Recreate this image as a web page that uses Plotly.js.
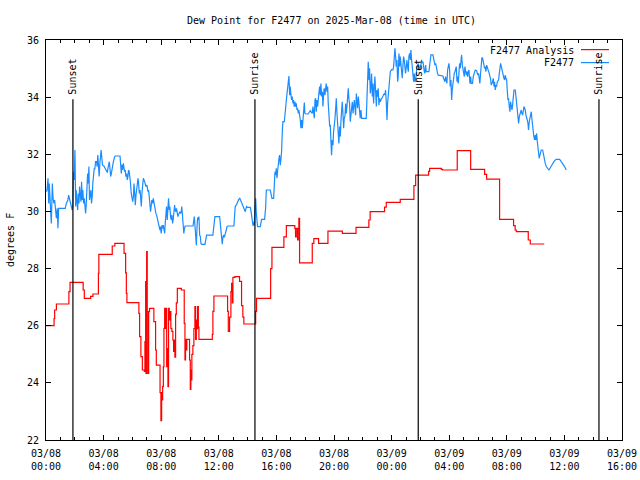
<!DOCTYPE html>
<html><head><meta charset="utf-8">
<script src="https://cdn.plot.ly/plotly-3.0.1.min.js"></script>
<style>html,body{margin:0;padding:0;background:#fff}#chart{width:640px;height:480px}</style>
</head><body><div id="chart"></div>
<script>
// x values are hours since 2025-03-08 00:00 UTC
const tickHours = [0,4,8,12,16,20,24,28,32,36,40];
const tickDates = ['03/08','03/08','03/08','03/08','03/08','03/08','03/09','03/09','03/09','03/09','03/09'];
const tickTimes = ['00:00','04:00','08:00','12:00','16:00','20:00','00:00','04:00','08:00','12:00','16:00'];
const yTicks = [22,24,26,28,30,32,34,36];

const sunHours = [1.87, 14.51, 25.85, 38.40];
const sunLabels = ['Sunset','Sunrise','Sunset','Sunrise'];

const seriesNames = ['F2477 Analysis','F2477'];

const analysisHours = [0.02,0.56,0.60,0.72,1.59,1.67,2.58,2.66,3.10,3.26,
3.64,3.67,4.60,4.78,5.42,5.53,5.58,5.62,6.45,6.50,
6.59,6.69,6.83,6.87,6.92,6.94,6.99,7.03,7.08,7.13,
7.19,7.49,7.61,7.66,7.92,7.98,8.03,8.05,8.10,8.15,
8.19,8.24,8.28,8.33,8.38,8.42,8.47,8.51,8.56,8.60,
8.67,8.74,8.81,8.86,8.91,8.95,9.00,9.05,9.12,9.40,
9.60,9.65,9.69,9.74,9.78,9.97,10.02,10.06,10.09,10.13,
10.20,10.27,10.34,10.39,10.44,10.48,10.53,10.58,10.62,11.55,
11.59,11.66,12.61,12.66,12.75,12.84,12.89,12.94,12.98,13.12,
13.44,13.58,13.67,13.74,14.56,14.62,15.60,15.69,16.52,16.69,
17.28,17.33,17.38,17.47,17.52,17.56,17.61,18.49,18.60,18.93,
19.58,20.58,21.53,22.42,22.51,23.51,23.63,24.60,25.55,25.67,
26.57,26.64,27.45,27.54,28.56,29.49,30.46,30.60,31.50,32.47,
32.58,32.66,33.49,33.63,34.60];
const analysisValues = [26.0,26.25,26.55,26.76,27.19,27.52,27.25,26.96,27.03,27.11,
27.83,28.5,28.79,28.88,28.53,27.85,27.13,26.81,26.43,25.62,
24.92,24.45,24.4,25.44,27.54,24.33,28.59,26.49,24.33,26.49,
26.61,26.14,25.15,24.62,23.66,22.68,23.66,23.4,23.87,24.57,
25.91,26.61,25.91,26.61,24.57,25.2,23.87,26.61,26.2,26.49,
25.91,25.8,25.5,25.1,25.5,24.9,26.4,26.8,27.31,27.25,
26.08,24.8,25.52,25.15,25.52,24.8,23.77,24.45,24.1,25.0,
25.3,25.9,26.67,25.52,26.2,25.9,26.67,25.95,25.52,25.7,
26.5,27.04,26.5,25.8,26.3,27.19,27.48,26.8,27.69,27.72,
27.55,26.7,26.3,26.06,26.5,26.96,28.0,28.74,29.11,29.5,
29.41,29.11,29.41,29.0,29.41,29.76,28.2,28.88,29.05,28.88,
29.31,29.23,29.44,29.7,29.99,30.15,30.32,30.42,30.9,31.27,
31.4,31.51,31.47,31.45,32.13,31.47,31.3,31.13,29.72,29.5,
29.35,29.29,29.0,28.86,28.86];

const obsHours = [
0.02,0.07,0.14,0.19,0.23,0.28,0.32,0.37,0.39,0.44,
0.49,0.55,0.60,0.65,0.72,0.78,0.83,0.88,1.34,1.41,
1.52,1.57,1.64,1.70,1.77,1.82,1.87,1.91,1.96,2.01,
2.06,2.10,2.15,2.20,2.24,2.29,2.33,2.38,2.43,2.47,
2.52,2.56,2.61,2.66,2.70,2.75,2.79,2.84,2.89,2.93,
2.98,3.02,3.07,3.12,3.16,3.21,3.25,3.30,3.35,3.39,
3.44,3.51,3.55,3.60,3.65,3.69,3.74,3.78,3.83,3.88,
3.92,4.02,4.11,4.19,4.26,4.33,4.40,4.45,4.49,4.54,
4.58,4.68,4.77,4.81,5.14,5.18,5.23,5.27,5.32,5.37,
5.41,5.46,5.50,5.55,5.60,5.64,5.69,5.73,5.78,5.83,
5.87,5.92,5.96,6.02,6.07,6.11,6.16,6.20,6.25,6.30,
6.34,6.39,6.43,6.48,6.53,6.57,6.62,6.66,6.71,6.76,
6.85,6.89,6.94,6.99,7.03,7.08,7.12,7.17,7.22,7.26,
7.31,7.35,7.40,7.45,7.49,7.54,7.58,7.63,7.68,7.72,
7.77,7.81,7.86,7.91,7.95,8.00,8.06,8.10,8.14,8.19,
8.24,8.28,8.33,8.37,8.42,8.47,8.51,8.56,8.60,8.65,
8.70,8.74,8.79,8.83,8.88,8.93,8.97,9.02,9.06,9.11,
9.16,9.20,9.25,9.29,9.34,9.39,9.43,9.48,9.52,9.57,
9.62,9.66,10.21,10.26,10.30,10.35,10.39,10.44,10.49,10.53,
10.58,10.62,10.67,10.72,10.76,10.81,11.04,11.08,11.15,11.59,
11.64,11.68,11.73,12.06,12.11,12.15,12.20,12.24,12.29,12.34,
12.38,12.43,12.47,12.52,12.57,12.63,13.05,13.09,13.14,13.21,
13.30,13.39,13.46,13.53,13.60,13.67,13.72,13.79,13.84,13.89,
13.93,14.00,14.19,14.24,14.29,14.33,14.38,14.42,14.47,
14.51,14.56,14.60,14.65,14.69,14.88,14.93,14.97,15.18,15.25,
15.30,15.57,15.62,15.69,15.81,15.85,15.90,15.94,15.99,16.04,
16.08,16.13,16.18,16.22,16.27,16.31,16.36,16.41,16.45,16.55,
16.59,16.64,16.69,16.73,16.78,16.82,16.87,16.92,16.96,17.01,
17.06,17.10,17.15,17.19,17.24,17.29,17.33,17.38,17.43,17.47,
17.52,17.56,17.61,17.66,17.70,17.75,17.80,17.84,17.89,17.94,
17.98,18.07,18.21,18.26,18.35,18.44,18.49,18.54,18.58,18.63,
18.68,18.72,18.77,18.81,18.86,18.91,18.95,19.00,19.05,19.09,
19.14,19.19,19.23,19.28,19.32,19.37,19.42,19.46,19.51,19.56,
19.60,19.65,19.70,19.74,19.79,19.83,19.88,19.93,19.97,20.02,
20.06,20.11,20.16,20.20,20.25,20.30,20.34,20.39,20.44,20.48,
20.53,20.57,20.62,20.67,20.71,20.76,20.81,20.85,20.90,20.94,
20.99,21.04,21.08,21.13,21.18,21.22,21.27,21.32,21.36,21.41,
21.45,21.50,21.55,21.59,21.64,21.69,21.73,21.78,21.82,21.87,
21.92,22.24,
22.29,22.33,22.38,22.43,22.47,22.52,22.57,22.61,22.66,22.70,
22.75,22.80,22.84,22.89,22.94,22.98,23.03,23.07,23.12,23.17,
23.21,23.26,23.31,23.35,23.44,23.49,23.54,23.58,23.63,23.68,
23.72,23.77,23.81,23.86,23.91,24.00,24.09,24.14,24.19,24.23,
24.28,24.32,24.37,24.42,24.46,24.51,24.56,24.60,24.65,24.69,
24.74,24.79,24.83,24.88,24.93,24.97,25.02,25.06,25.11,25.16,
25.20,25.25,25.30,25.34,25.39,25.44,25.48,25.53,25.57,25.62,
25.67,25.76,25.85,25.94,26.06,26.18,26.27,26.31,26.36,26.41,
26.59,26.64,26.69,26.73,26.87,26.92,26.96,27.01,27.06,27.10,
27.15,27.19,27.24,27.56,27.61,27.66,27.70,27.75,27.80,27.84,
27.89,27.94,27.98,28.03,28.07,28.12,28.17,28.21,28.26,28.31,
28.35,28.40,28.44,28.49,28.54,28.58,28.63,28.68,28.72,28.77,
28.81,28.86,28.91,28.95,29.00,29.05,29.09,29.14,29.19,29.23,
29.28,29.32,29.37,
29.44,29.49,29.53,29.62,29.67,29.72,29.76,29.81,29.90,29.95,
29.99,30.04,30.09,30.13,30.18,30.23,30.27,30.32,30.37,30.41,
30.46,30.50,30.55,30.60,30.64,30.69,30.74,30.78,30.83,30.87,
30.92,30.97,31.01,31.06,31.11,31.15,31.20,31.25,31.29,31.34,
31.43,31.48,31.52,31.57,31.62,31.66,31.71,31.75,31.80,31.85,
31.89,31.94,31.99,32.03,32.08,32.12,32.17,32.22,32.26,32.31,
32.36,32.40,32.45,32.50,32.59,32.63,32.68,32.73,32.77,32.82,
32.87,32.91,32.96,33.00,33.05,33.10,33.14,33.19,33.24,33.28,
33.33,33.37,33.42,33.47,33.51,33.56,33.61,33.65,33.70,33.75,
33.79,33.84,33.88,33.93,33.98,34.02,34.07,34.12,34.16,34.21,
34.25,34.30,34.35,34.39,34.49,34.53,34.58,34.62,34.67,34.74,
34.86,34.93,35.09,35.20,35.32,35.43,35.67,35.78,35.90,36.01,
36.13];

const obsValues = [
30.69,30.75,31.16,30.28,30.98,30.63,30.05,29.58,30.63,30.98,
30.46,30.28,30.40,30.05,29.76,30.11,29.41,30.11,30.11,30.28,
30.40,30.57,30.40,30.34,30.17,30.05,30.22,31.39,31.10,32.15,
30.17,30.75,30.34,30.05,30.63,30.28,30.87,30.46,30.34,31.04,
30.40,30.75,30.28,30.46,30.11,29.93,30.22,30.63,31.33,30.98,
31.57,30.40,30.63,30.75,30.28,30.52,30.98,31.45,31.51,31.47,
31.74,31.74,31.57,31.97,31.57,31.22,31.68,31.92,32.15,31.86,
31.63,31.59,31.51,31.45,31.36,31.59,31.74,31.45,31.22,31.33,
31.51,31.74,31.92,31.94,31.94,31.74,31.33,31.63,31.45,31.68,
31.57,31.39,31.45,31.22,31.33,31.10,31.22,31.45,31.39,31.22,
30.98,30.63,30.46,30.34,30.52,30.98,30.63,30.22,30.57,30.81,
31.04,31.16,30.98,30.63,30.75,30.34,30.17,30.63,31.04,31.16,
31.04,30.98,30.87,30.93,30.87,30.69,30.75,30.52,30.28,29.99,
30.22,30.40,30.28,30.46,30.34,30.17,30.05,29.93,29.88,29.76,
29.70,29.58,29.47,29.35,29.47,29.23,29.52,29.41,29.52,29.35,
29.23,29.58,29.88,30.17,29.70,30.05,30.46,30.05,30.17,29.82,
29.70,29.88,29.58,29.70,30.05,30.22,30.05,29.99,30.11,29.88,
29.82,29.88,29.93,29.99,29.93,29.99,30.17,29.82,29.41,29.23,
29.41,29.49,29.49,29.70,29.82,29.47,29.17,28.82,29.47,29.79,
29.70,29.82,29.17,29.12,28.88,28.85,28.85,29.00,29.17,29.17,
29.47,29.76,29.82,29.82,29.52,29.17,29.00,28.85,29.12,29.17,
29.09,29.23,29.29,29.35,29.47,29.49,29.49,29.82,30.17,30.22,
30.34,30.42,30.46,30.38,30.28,30.17,30.11,30.05,29.99,30.11,
30.17,30.14,30.14,29.99,29.82,29.64,29.49,29.64,29.52,
30.11,30.46,29.99,29.58,29.47,29.47,29.58,29.72,29.72,30.11,
30.75,30.75,30.63,30.46,30.46,30.87,31.39,31.27,31.51,31.16,
31.39,31.80,31.86,31.97,31.62,31.80,32.09,32.79,33.14,33.14,
33.55,33.61,33.90,34.13,34.31,34.39,34.74,34.07,34.37,34.07,
33.90,34.02,33.78,33.90,33.67,33.84,33.67,33.78,33.55,33.61,
33.43,33.55,33.43,33.20,32.91,33.20,32.91,33.32,33.57,33.81,
33.43,33.41,33.41,33.46,33.53,33.46,33.43,33.67,33.55,33.26,
33.90,33.96,33.49,33.90,33.67,33.84,34.13,34.37,34.07,34.48,
34.02,34.19,33.67,34.13,34.31,34.07,34.43,34.48,34.19,34.37,
33.78,33.20,32.97,33.03,32.44,31.97,32.50,32.32,32.79,32.97,
33.20,33.55,33.96,33.49,33.20,32.62,32.38,32.97,32.62,33.14,
33.67,33.84,33.43,32.91,33.26,33.32,33.78,33.43,33.67,34.07,
34.31,33.90,33.78,33.14,33.37,33.78,33.84,33.43,33.73,33.90,
33.67,33.37,34.13,33.90,33.61,34.02,33.67,33.43,33.26,33.55,
33.26,33.26,
34.13,34.83,35.24,34.60,35.01,34.13,34.37,34.83,34.02,34.48,
33.78,34.37,34.72,34.19,33.67,34.25,34.02,34.31,33.72,33.96,
33.84,33.90,33.96,34.02,34.07,34.13,34.07,34.25,33.84,33.20,
33.78,34.13,34.37,34.60,34.89,34.97,34.95,35.07,35.36,35.71,
35.42,35.07,35.30,34.54,34.72,35.53,35.07,35.42,35.18,34.95,
34.66,35.12,35.42,35.30,34.89,34.83,35.07,35.30,35.07,34.89,
35.42,35.53,35.30,35.65,35.30,34.95,34.72,34.54,34.83,34.54,
34.60,35.07,35.18,34.95,35.18,35.24,34.89,34.83,35.12,34.89,
34.89,35.12,35.36,35.48,35.48,35.36,35.24,35.12,35.18,35.01,
34.89,34.83,34.77,34.74,34.66,34.60,34.54,34.72,34.54,34.48,
34.95,35.07,35.18,34.95,34.37,34.60,33.90,34.25,34.48,34.72,
34.83,34.89,34.95,35.07,34.54,34.72,34.48,34.89,35.18,35.01,
35.30,35.48,35.12,35.01,34.83,34.72,35.07,34.83,34.77,34.89,
34.72,34.89,34.95,
34.48,34.72,34.48,34.48,34.72,34.83,34.89,34.95,34.93,34.83,
34.77,34.83,34.66,34.48,34.83,35.18,35.39,35.36,35.24,35.18,
35.01,35.07,34.89,35.12,35.07,35.01,34.89,34.83,34.72,34.66,
34.42,34.48,34.54,34.66,34.37,34.54,34.25,34.42,34.37,34.54,
34.60,34.83,35.01,35.18,35.07,34.95,34.83,34.72,34.66,34.60,
34.77,34.66,34.60,34.25,33.90,33.96,33.67,33.49,33.84,33.67,
33.55,33.72,34.13,34.25,34.25,34.07,33.78,33.49,33.43,33.08,
33.32,33.37,33.49,33.55,33.43,33.37,33.49,33.67,33.61,33.55,
33.37,33.32,33.20,33.08,32.85,33.14,33.32,33.43,33.49,33.20,
32.97,32.73,32.62,32.50,32.67,32.50,32.73,32.44,32.27,32.09,
31.86,31.97,32.09,32.15,32.15,32.03,31.97,31.80,31.68,31.57,
31.51,31.45,31.59,31.71,31.78,31.82,31.82,31.74,31.66,31.57,
31.45];

const FONT = 'DejaVu Sans Mono, Liberation Mono, monospace';
const RED = '#ff0000';
const BLUE = '#1a8cff';

const traces = [
  {x: analysisHours, y: analysisValues, name: seriesNames[0], type: 'scatter', mode: 'lines',
   line: {color: RED, width: 1.2, shape: 'hv'}, hoverinfo: 'skip'},
  {x: obsHours, y: obsValues, name: seriesNames[1], type: 'scatter', mode: 'lines',
   line: {color: BLUE, width: 1.2}, hoverinfo: 'skip'}
];

const shapes = sunHours.map(h => ({
  type: 'line', xref: 'x', yref: 'y', x0: h, x1: h, y0: 22, y1: 33.93,
  line: {color: '#000', width: 1.2}
}));
// legend samples
shapes.push({type: 'line', xref: 'paper', yref: 'paper', x0: 0.9288, x1: 0.9774, y0: 0.976, y1: 0.976, line: {color: RED, width: 1.2}});
shapes.push({type: 'line', xref: 'paper', yref: 'paper', x0: 0.9288, x1: 0.9774, y0: 0.9435, y1: 0.9435, line: {color: BLUE, width: 1.2}});

const annotations = sunHours.map((h, i) => ({
  x: h, y: 34.05, xref: 'x', yref: 'y', text: sunLabels[i], showarrow: false,
  textangle: -90, xanchor: 'center', yanchor: 'bottom',
  font: {family: FONT, size: 10, color: '#000'}, borderpad: 0
}));
annotations.push({x: 0.9184, y: 0.975, xref: 'paper', yref: 'paper', text: seriesNames[0], showarrow: false,
  xanchor: 'right', yanchor: 'middle', font: {family: FONT, size: 10, color: '#000'}, borderpad: 0});
annotations.push({x: 0.9184, y: 0.943, xref: 'paper', yref: 'paper', text: seriesNames[1], showarrow: false,
  xanchor: 'right', yanchor: 'middle', font: {family: FONT, size: 10, color: '#000'}, borderpad: 0});
annotations.push({x: -0.0625, y: 0.5, xref: 'paper', yref: 'paper', text: 'degrees F', showarrow: false,
  textangle: -90, xanchor: 'center', yanchor: 'middle', font: {family: FONT, size: 10, color: '#000'}});

const layout = {
  width: 640, height: 480,
  margin: {l: 46, r: 18, t: 40, b: 40, pad: 0},
  paper_bgcolor: '#fff', plot_bgcolor: '#fff',
  showlegend: false,
  font: {family: FONT, size: 10, color: '#000'},
  title: {text: 'Dew Point for F2477 on 2025-Mar-08 (time in UTC)', xref: 'container', x: 0.518,
          xanchor: 'center', yref: 'container', y: 0.958, yanchor: 'middle',
          font: {family: FONT, size: 10, color: '#000'}},
  xaxis: {
    range: [0, 40], tickmode: 'array', tickvals: tickHours,
    ticktext: tickHours.map((h, i) => tickDates[i] + '<br>' + tickTimes[i]),
    ticks: 'inside', ticklen: 5, tickwidth: 1, tickcolor: '#000',
    showline: true, linecolor: '#000', linewidth: 1, mirror: 'ticks',
    showgrid: false, zeroline: false, fixedrange: true,
    tickfont: {family: FONT, size: 10, color: '#000'},
    ticklabelstandoff: 4,
    minor: {tickmode: 'linear', tick0: 0, dtick: 1, ticks: 'inside', ticklen: 3, tickcolor: '#000', showgrid: false}
  },
  yaxis: {
    range: [22, 36], tickmode: 'array', tickvals: yTicks, ticktext: yTicks.map(String),
    ticks: 'inside', ticklen: 5, tickwidth: 1, tickcolor: '#000',
    showline: true, linecolor: '#000', linewidth: 1, mirror: 'ticks',
    showgrid: false, zeroline: false, fixedrange: true,
    tickfont: {family: FONT, size: 10, color: '#000'},
    ticklabelstandoff: 4
  },
  shapes: shapes,
  annotations: annotations
};

Plotly.newPlot('chart', traces, layout, {staticPlot: true, displayModeBar: false});
</script>
</body></html>
